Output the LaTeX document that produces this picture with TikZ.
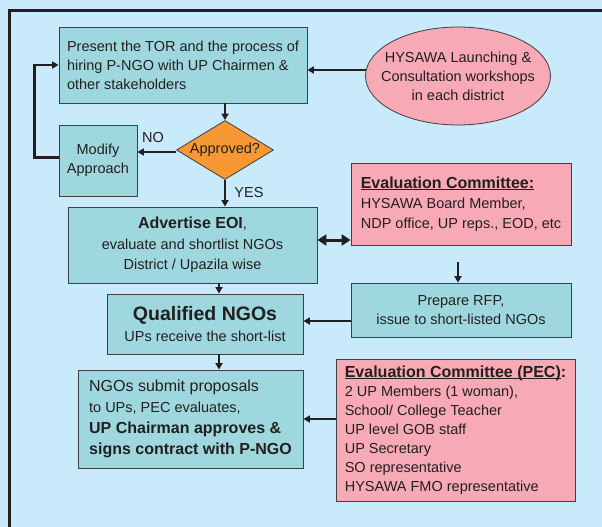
\documentclass[tikz,border=0pt]{standalone}
\usepackage{fontspec}
\setmainfont{Liberation Sans}
\usetikzlibrary{shapes.geometric,arrows.meta,calc}
\definecolor{bgc}{RGB}{200,234,250}
\definecolor{tealc}{RGB}{158,216,222}
\definecolor{pinkc}{RGB}{247,170,182}
\definecolor{orangec}{RGB}{247,152,52}
\definecolor{txt}{RGB}{35,31,32}
\definecolor{edgec}{RGB}{60,64,68}
\newcommand\myul[1]{\setbox0\hbox{#1}\rlap{\rule[-2.2pt]{\wd0}{1pt}}\box0}
\begin{document}
\begin{tikzpicture}[x=1pt,y=-1pt,
  font=\fontsize{14.5}{19}\selectfont, text=txt,
  tbox/.style={draw=edgec, line width=0.8pt, fill=tealc, inner sep=0pt},
  pbox/.style={draw=edgec, line width=0.8pt, fill=pinkc, inner sep=0pt},
  arr/.style={draw=txt, line width=2pt, -{Triangle[length=6.5pt,width=7pt]}},
  dblarr/.style={draw=txt, line width=3pt, {Triangle[length=9pt,width=11pt]}-{Triangle[length=9pt,width=11pt]}},
  lbl/.style={inner sep=0pt}]
\fill[bgc] (0,0) rectangle (602,527);
\useasboundingbox (0,0) rectangle (602,527);
\draw[line width=3pt, draw=txt] (602,11) -- (9.5,11) -- (9.5,527);

% nodes
\node[tbox, minimum width=248, minimum height=76, align=left] (tor) at (183,65)
  {Present the TOR and the process of\\hiring P-NGO with UP Chairmen \&\\other stakeholders};
\node[pbox, ellipse, minimum width=185, minimum height=98,
  label={[align=center]center:HYSAWA Launching \&\\Consultation workshops\\in each district}] (ws) at (458,76) {};
\node[draw=edgec, line width=0.8pt, fill=orangec, diamond, minimum width=97, minimum height=59, inner sep=0pt,
  label={[yshift=0.5pt]center:Approved?}] (dia) at (225,150) {};
\node[tbox, minimum width=78, minimum height=71, align=center] (mod) at (98,160.5) {Modify\\Approach};
\node[tbox, minimum width=249, minimum height=76, align=center, font=\fontsize{14.5}{20.5}\selectfont] (eoi) at (192.5,245)
  {{\fontsize{16}{19}\selectfont\bfseries Advertise EOI},\\evaluate and shortlist NGOs\\District / Upazila wise};
\node[pbox, minimum width=220, minimum height=82, align=left, font=\fontsize{14.5}{20}\selectfont] (ec) at (461,204)
  {{\fontsize{16}{19}\selectfont\bfseries\myul{Evaluation Committee:}}\\HYSAWA Board Member,\\NDP office, UP reps., EOD, etc};
\node[tbox, minimum width=220, minimum height=54, align=center] (rfp) at (461,310)
  {Prepare RFP,\\issue to short-listed NGOs};
\node[tbox, minimum width=196, minimum height=60, align=center, font=\fontsize{14.5}{21}\selectfont] (qual) at (205,324)
  {{\fontsize{19.5}{23}\selectfont\bfseries Qualified NGOs}\\UPs receive the short-list};
\node[tbox, minimum width=225, minimum height=98, align=left, font=\fontsize{14.5}{21}\selectfont] (ngo) at (190.5,419)
  {{\fontsize{16}{20}\selectfont NGOs submit proposals}\\to UPs, PEC evaluates,\\{\fontsize{16}{20}\selectfont\bfseries UP Chairman approves \&}\\{\fontsize{16}{20}\selectfont\bfseries signs contract with P-NGO}};
\node[pbox, minimum width=239, minimum height=142, align=left] (pec) at (455.5,430)
  {{\fontsize{16}{19}\selectfont\bfseries\myul{Evaluation Committee (PEC)}:}\\2 UP Members (1 woman),\\School/ College Teacher\\UP level GOB staff\\UP Secretary\\SO representative\\HYSAWA FMO representative};

\node[lbl] (no) at (153,138) {NO};
\node[lbl] (yes) at (249,193) {YES};

% helper coordinates
\coordinate (wsA) at (366,70);
\coordinate (noA) at (176,152);
\coordinate (dblA) at (317,240);
\coordinate (ecgap) at (458,262);
\coordinate (rq) at (351,321);
\coordinate (cx) at (219,0);

% connectors
\draw[arr] (wsA) -- (tor.east |- wsA);
\draw[arr, line width=2.7pt] ([yshift=3pt]mod.west) -- ++(-24,0) |- (tor.west);
\draw[arr] (dia.north |- tor.south) -- (dia.north);
\draw[arr] (noA) -- (mod.east |- noA);
\draw[arr] (dia.south) -- (dia.south |- eoi.north);
\draw[dblarr] (eoi.east |- dblA) -- (ec.west |- dblA);
\draw[arr] (ecgap) -- (ecgap |- rfp.north);
\draw[arr] (rfp.west |- rq) -- (qual.east |- rq);
\draw[arr] (cx |- eoi.south) -- (cx |- qual.north);
\draw[arr] (cx |- qual.south) -- (cx |- ngo.north);
\draw[arr] (pec.west |- ngo.east) -- (ngo.east);
\end{tikzpicture}
\end{document}
